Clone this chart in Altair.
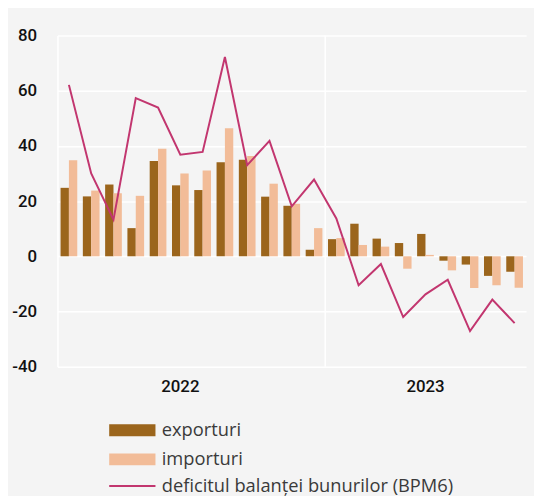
import altair as alt
import pandas as pd

months = ["2022-01", "2022-02", "2022-03", "2022-04", "2022-05", "2022-06",
          "2022-07", "2022-08", "2022-09", "2022-10", "2022-11", "2022-12",
          "2023-01", "2023-02", "2023-03", "2023-04", "2023-05", "2023-06",
          "2023-07", "2023-08", "2023-09"]
exporturi = [24.8, 21.7, 26.0, 10.2, 34.5, 25.7, 24.0, 34.1, 35.0, 21.6, 18.3, 2.4,
             6.2, 11.8, 6.4, 4.8, 8.1, -1.6, -3.0, -7.1, -5.6]
importuri = [34.8, 23.8, 22.8, 21.9, 39.0, 30.0, 31.1, 46.4, 36.3, 26.3, 19.0, 10.2,
             6.6, 4.1, 3.5, -4.5, 0.5, -5.1, -11.5, -10.5, -11.4]
deficit = [62.1, 30.0, 13.3, 57.3, 53.9, 36.8, 37.8, 72.2, 33.0, 41.8, 18.1, 27.8,
           13.7, -10.5, -2.8, -22.0, -13.8, -8.5, -27.1, -15.7, -24.2]
bar_names = ["exporturi", "importuri"]
line_name = "deficitul balanței bunurilor (BPM6)"
year_label_months = ["2022-06", "2023-05"]
year_break = ["2023-01"]
y_ticks = [-40, -20, 0, 20, 40, 60, 80]

C_EXP = "#9b651c"
C_IMP = "#f2bc98"
C_LINE = "#c2366f"
BG = "#f4f4f4"
AX_FONT = "Roboto"
LEG_FONT = "Open Sans"

bars = pd.DataFrame({
    "month": months * 2,
    "serie": [bar_names[0]] * len(months) + [bar_names[1]] * len(months),
    "value": exporturi + importuri,
})
line = pd.DataFrame({"month": months, "serie": line_name, "value": deficit})
brk = pd.DataFrame({"month": year_break})

xscale = alt.Scale(domain=months, paddingInner=0.25, paddingOuter=0.14)
xaxis = alt.Axis(values=year_label_months, labelExpr="slice(datum.label, 0, 4)",
                 ticks=False, domain=False, grid=False, labelAngle=0,
                 labelFont=AX_FONT, labelFontSize=17, labelFontWeight=500,
                 labelColor="#111111", labelPadding=12, title=None)
yscale = alt.Scale(domain=[-40, 80], nice=False)
yaxis = alt.Axis(values=y_ticks, labelExpr="'' + datum.value",
                 ticks=False, domain=True, domainColor="white",
                 domainWidth=1.5, grid=True, gridColor="white", gridWidth=1.5,
                 labelFont=AX_FONT, labelFontSize=17, labelFontWeight=500,
                 labelColor="#111111", labelPadding=21, title=None)

bar_layer = alt.Chart(bars).mark_bar().encode(
    x=alt.X("month:N", scale=xscale, axis=xaxis),
    xOffset=alt.XOffset("serie:N", sort=bar_names, scale=alt.Scale(paddingInner=0, paddingOuter=0)),
    y=alt.Y("value:Q", scale=yscale, axis=yaxis),
    fill=alt.Fill("serie:N", scale=alt.Scale(domain=bar_names, range=[C_EXP, C_IMP]),
                  legend=alt.Legend(orient="none", legendX=66.5, legendY=390, title=None,
                                    symbolType="M-3.9,-1H3.9V1H-3.9Z", symbolSize=144,
                                    symbolStrokeWidth=0, labelOffset=20.5, padding=0,
                                    labelFont=LEG_FONT, labelFontSize=18.5, labelColor="#3a3a3a",
                                    labelLimit=0, rowPadding=10.5)),
)

rule_layer = alt.Chart(brk).mark_rule(color="white", strokeWidth=1.5, xOffset=-2.8).encode(
    x=alt.X("month:N", scale=xscale, axis=xaxis, bandPosition=0),
)

line_layer = alt.Chart(line).mark_line(strokeWidth=2).encode(
    x=alt.X("month:N", scale=xscale, axis=xaxis),
    y=alt.Y("value:Q", scale=yscale, axis=yaxis),
    stroke=alt.Stroke("serie:N", scale=alt.Scale(domain=[line_name], range=[C_LINE]),
                      legend=alt.Legend(orient="none", legendX=66.5, legendY=446.5, title=None,
                                        symbolType="M-3.9,0H3.9", symbolSize=144,
                                        symbolStrokeWidth=2, labelOffset=20.5, padding=0,
                                        labelFont=LEG_FONT, labelFontSize=18.5,
                                        labelColor="#3a3a3a", labelLimit=0)),
)

chart = alt.layer(rule_layer, bar_layer, line_layer).resolve_scale(
    fill="independent", stroke="independent"
).properties(
    width=474, height=335,
    autosize=alt.AutoSizeParams(type="none"),
    padding={"left": 50, "top": 25, "right": 8, "bottom": 128},
    background=BG,
).configure_view(stroke=None, fill=BG)

chart.save("out.html", embed_options={"renderer": "svg", "actions": False})
